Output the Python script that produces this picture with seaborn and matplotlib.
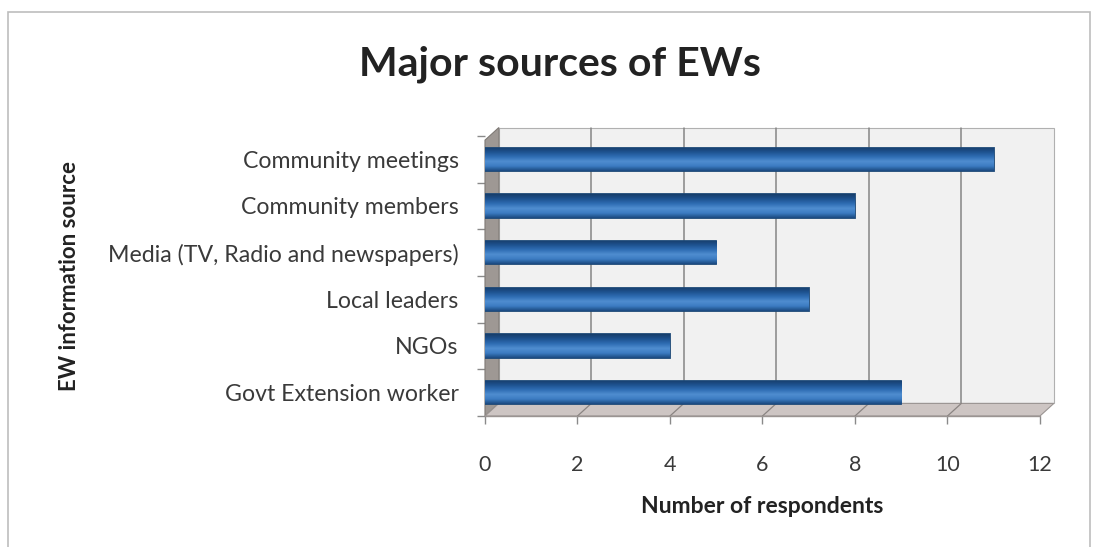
import matplotlib
matplotlib.use("Agg")
import matplotlib.pyplot as plt
import seaborn as sns
import pandas as pd
import numpy as np
from matplotlib.patches import Rectangle, Polygon
from matplotlib.colors import LinearSegmentedColormap

categories = ["Community meetings", "Community members",
              "Media (TV, Radio and newspapers)", "Local leaders",
              "NGOs", "Govt Extension worker"]
respondents = [11, 8, 5, 7, 4, 9]
x_ticks = [0, 2, 4, 6, 8, 10, 12]

sns.set_theme(style="white")
plt.rcParams['font.family'] = ['Lato', 'DejaVu Sans']

fig = plt.figure(figsize=(10.99, 5.47), dpi=100)
fig.patch.set_facecolor("white")
# outer chart border
fig.patches.append(Rectangle((8/1099, -0.05), 1082/1099, 1 - 12/547 + 0.05,
                             transform=fig.transFigure, fill=False,
                             edgecolor="#BDBDBD", linewidth=1.2))

ax = fig.add_axes([0.4413, 0.2395, 0.505, 0.512])
ax.set_facecolor("none")

df = pd.DataFrame({"source": categories, "n": respondents})
sns.barplot(data=df, y="source", x="n", orient="h", color="#2F6DB3",
            edgecolor="#1C4877", linewidth=1.3, width=0.5, saturation=1,
            ax=ax, zorder=3)
ax.set_xlim(0, 12)
ax.set_ylim(5.5, -0.5)
ax.set_xticks(x_ticks)
ax.set_xticklabels([str(t) for t in x_ticks])

# cylinder-like shading for each bar
cyl = LinearSegmentedColormap.from_list(
    "cyl", ["#1B4A80", "#3C7CC2", "#4F8DD0", "#2F6DB3", "#1E5290", "#173E6B"])
grad = np.linspace(0, 1, 64).reshape(-1, 1)
for bar in list(ax.patches):
    x0, y0 = bar.get_x(), bar.get_y()
    w, h = bar.get_width(), bar.get_height()
    im = ax.imshow(grad, cmap=cyl, aspect="auto",
                   extent=(x0, x0 + w, y0, y0 + h), origin="upper",
                   zorder=3.5, interpolation="bilinear")
    im.set_clip_path(bar)
ax.set_xlim(0, 12)
ax.set_ylim(5.5, -0.5)

# pseudo-3D walls
dx, dy = 0.025, 0.045
back = Polygon([(dx, dy), (1 + dx, dy), (1 + dx, 1.03), (dx, 1.03)],
               closed=True, transform=ax.transAxes, facecolor="#F1F1F1",
               edgecolor="#B0B0B0", linewidth=0.8, zorder=0, clip_on=False)
left = Polygon([(0, 0), (dx, dy), (dx, 1.03), (0, 0.985)], closed=True,
               transform=ax.transAxes, facecolor="#9E9894",
               edgecolor="#7F7A76", linewidth=0.8, zorder=1, clip_on=False)
floor = Polygon([(0, 0), (1, 0), (1 + dx, dy), (dx, dy)], closed=True,
                transform=ax.transAxes, facecolor="#CDC5C3",
                edgecolor="#9A9492", linewidth=0.8, zorder=1, clip_on=False)
for p in (back, left, floor):
    ax.add_patch(p)
for t in x_ticks[1:-1]:
    f = t / 12
    ax.plot([f + dx, f + dx], [dy, 1.03], transform=ax.transAxes,
            color="#858585", linewidth=1.1, zorder=0.5, clip_on=False)
    ax.plot([f, f + dx], [0, dy], transform=ax.transAxes,
            color="#8A8482", linewidth=0.9, zorder=1.5, clip_on=False)

for s in ax.spines.values():
    s.set_visible(False)

# category boundary ticks
ax.set_yticks([i - 0.5 for i in range(len(categories) + 1)], minor=True)
ax.tick_params(axis="y", which="minor", left=True, length=6, width=1,
               color="#8A8A8A")
ax.tick_params(axis="y", which="major", left=False, length=0, pad=19,
               labelsize=16.7, labelcolor="#3A3A3A")
ax.tick_params(axis="x", which="major", bottom=True, length=6, width=1,
               color="#8A8A8A", pad=22, labelsize=15.5, labelcolor="#3A3A3A")
ax.plot([0, 1], [0, 0], transform=ax.transAxes, color="#9A9492",
        linewidth=1, clip_on=False, zorder=2)

ax.set_ylabel("EW information source", fontsize=16, fontweight="bold",
              color="#222222", labelpad=20)
ax.set_xlabel("Number of respondents", fontsize=16.5, fontweight="bold",
              color="#222222", labelpad=15)

fig.text(0.51, 0.883, "Major sources of EWs", ha="center", va="center",
         fontsize=29.5, fontweight="bold", color="#222222")

fig.savefig("out.png", dpi=100)
